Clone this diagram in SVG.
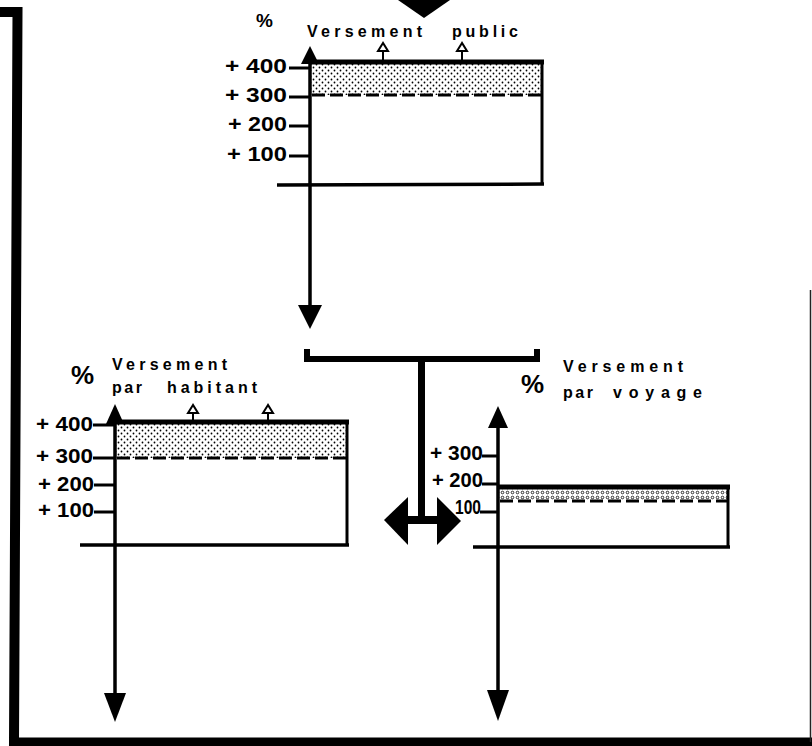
<svg xmlns="http://www.w3.org/2000/svg" width="812" height="746" viewBox="0 0 812 746">
<style>
.lbl{font-family:"Liberation Sans",Arial,sans-serif;font-weight:bold;font-size:16px;fill:#000}
.num{font-family:"Liberation Sans",Arial,sans-serif;font-weight:bold;font-size:21px;fill:#000}
.pct{font-family:"Liberation Sans",Arial,sans-serif;font-weight:bold;fill:#000}
.ax{stroke:#000;stroke-width:3.5;fill:none}
.edge{stroke:#000;stroke-width:3;fill:none}
.topedge{stroke:#000;stroke-width:5;fill:none}
.tick{stroke:#000;stroke-width:3;fill:none}
.dash{stroke:#000;stroke-width:3;stroke-dasharray:13 5;fill:none}
.tri{fill:#fff;stroke:#000;stroke-width:2}
.stem{stroke:#000;stroke-width:2}
</style>
<defs>
<pattern id="dots" width="6" height="6" patternUnits="userSpaceOnUse">
<circle cx="1.5" cy="1.5" r="0.9" fill="#000"/>
<circle cx="4.5" cy="4.5" r="0.9" fill="#000"/>
</pattern>
<pattern id="dots2" width="5" height="5" patternUnits="userSpaceOnUse">
<circle cx="2.5" cy="2.5" r="1.3" fill="none" stroke="#000" stroke-width="0.8"/>
</pattern>
</defs>
<rect width="812" height="746" fill="#fff"/>

<g id="frame">
<polyline points="0,12 17.5,12 14,742.5 812,742.5" fill="none" stroke="#000" stroke-width="10" stroke-linejoin="miter"/>
<line x1="810.5" y1="290" x2="810.5" y2="742" stroke="#222" stroke-width="1.5"/>
</g>

<g id="input-arrow">
<polygon points="398,0 450,0 424,18" fill="#000"/>
</g>

<g id="chart-public">
<text class="pct" x="256" y="27" font-size="19">%</text>
<text class="lbl" x="307" y="37" textLength="115" lengthAdjust="spacing">Versement</text>
<text class="lbl" x="452" y="37" textLength="66" lengthAdjust="spacing">public</text>
<rect x="311" y="64" width="230" height="31" fill="url(#dots)"/>
<line class="dash" x1="312" y1="95" x2="542" y2="95"/>
<line class="topedge" x1="310" y1="62" x2="544" y2="62"/>
<line class="edge" x1="542" y1="62" x2="542" y2="185"/>
<line class="ax" x1="277" y1="185" x2="544" y2="184"/>
<line class="stem" x1="383" y1="50" x2="383" y2="62"/>
<polygon class="tri" points="383,43 378,51 388,51"/>
<line class="stem" x1="462" y1="50" x2="462" y2="62"/>
<polygon class="tri" points="462,43 457,51 467,51"/>
<line class="tick" x1="289" y1="68" x2="310" y2="68"/>
<line class="tick" x1="289" y1="97" x2="310" y2="97"/>
<line class="tick" x1="289" y1="126" x2="310" y2="126"/>
<line class="tick" x1="289" y1="156" x2="310" y2="156"/>
<text class="num" x="225" y="73" textLength="62" lengthAdjust="spacingAndGlyphs">+ 400</text>
<text class="num" x="225" y="102" textLength="62" lengthAdjust="spacingAndGlyphs">+ 300</text>
<text class="num" x="228" y="131" textLength="59" lengthAdjust="spacingAndGlyphs">+ 200</text>
<text class="num" x="227" y="161" textLength="60" lengthAdjust="spacingAndGlyphs">+ 100</text>
<line class="ax" x1="310" y1="60" x2="310" y2="308"/>
<polygon points="310,46 301,64 319,64" fill="#000"/>
<polygon points="310,329 298,305 322,305" fill="#000"/>
</g>

<g id="chart-habitant">
<text class="pct" x="71" y="384" font-size="26">%</text>
<text class="lbl" x="112" y="370" textLength="115" lengthAdjust="spacing">Versement</text>
<text class="lbl" x="112" y="393" textLength="30" lengthAdjust="spacing">par</text>
<text class="lbl" x="167" y="393" textLength="90" lengthAdjust="spacing">habitant</text>
<rect x="116" y="424" width="230" height="34" fill="url(#dots)"/>
<line class="dash" x1="117" y1="458" x2="347" y2="458"/>
<line class="topedge" x1="115" y1="422" x2="349" y2="422"/>
<line class="edge" x1="347" y1="422" x2="347" y2="545"/>
<line class="ax" x1="80" y1="545" x2="349" y2="545"/>
<line class="stem" x1="193" y1="413" x2="193" y2="422"/>
<polygon class="tri" points="193,405 188,413 198,413"/>
<line class="stem" x1="268" y1="413" x2="268" y2="422"/>
<polygon class="tri" points="268,405 263,413 273,413"/>
<line class="tick" x1="93" y1="425" x2="115" y2="425"/>
<line class="tick" x1="93" y1="458" x2="115" y2="458"/>
<line class="tick" x1="94" y1="485" x2="115" y2="485"/>
<line class="tick" x1="94" y1="512" x2="115" y2="512"/>
<text class="num" x="36" y="431" textLength="57" lengthAdjust="spacingAndGlyphs">+ 400</text>
<text class="num" x="36" y="463" textLength="57" lengthAdjust="spacingAndGlyphs">+ 300</text>
<text class="num" x="38" y="491" textLength="56" lengthAdjust="spacingAndGlyphs">+ 200</text>
<text class="num" x="38" y="517" textLength="56" lengthAdjust="spacingAndGlyphs">+ 100</text>
<line class="ax" x1="115" y1="420" x2="115" y2="700"/>
<polygon points="115,404 106,424 124,424" fill="#000"/>
<polygon points="115,722 104,693 126,693" fill="#000"/>
</g>

<g id="chart-voyage">
<text class="pct" x="521" y="393" font-size="26">%</text>
<text class="lbl" x="563" y="372" textLength="120" lengthAdjust="spacing">Versement</text>
<text class="lbl" x="563" y="398" textLength="30" lengthAdjust="spacing">par</text>
<text class="lbl" x="613" y="398" textLength="89" lengthAdjust="spacing">voyage</text>
<rect x="499" y="489" width="228" height="11" fill="url(#dots2)"/>
<line class="dash" x1="500" y1="501" x2="728" y2="501"/>
<line class="topedge" x1="498" y1="487" x2="730" y2="487"/>
<line class="edge" x1="728" y1="487" x2="728" y2="547"/>
<line class="ax" x1="473" y1="547" x2="730" y2="547"/>
<line class="tick" x1="482" y1="456" x2="498" y2="456"/>
<line class="tick" x1="482" y1="484" x2="498" y2="484"/>
<line class="tick" x1="480" y1="512" x2="498" y2="512"/>
<text class="num" x="430" y="460" textLength="53" lengthAdjust="spacingAndGlyphs">+ 300</text>
<text class="num" x="432" y="487" textLength="51" lengthAdjust="spacingAndGlyphs">+ 200</text>
<text class="num" x="455" y="514" textLength="26" lengthAdjust="spacingAndGlyphs">100</text>
<line class="ax" x1="498" y1="420" x2="498" y2="700"/>
<polygon points="498,406 488,428 508,428" fill="#000"/>
<polygon points="498,721 487,690 509,690" fill="#000"/>
</g>

<g id="connectors">
<polyline points="307,349 307,359 537,359 537,349" fill="none" stroke="#000" stroke-width="6" stroke-linejoin="miter"/>
<line x1="421.5" y1="359" x2="421.5" y2="522" stroke="#000" stroke-width="7"/>
<line x1="404" y1="520" x2="441" y2="520" stroke="#000" stroke-width="8"/>
<polygon points="384,520 408,497 408,545" fill="#000"/>
<polygon points="461,521 437,497 437,545" fill="#000"/>
</g>
</svg>
